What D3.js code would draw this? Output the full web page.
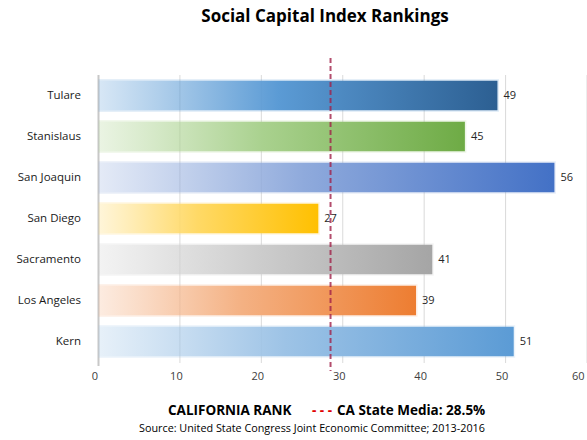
<!DOCTYPE html>
<html>
<head>
<meta charset="utf-8">
<script src="https://cdn.jsdelivr.net/npm/d3@7"></script>
<style>
  html, body { margin: 0; padding: 0; background: #ffffff; }
  svg { display: block; }
  text { font-family: "Open Sans", "Liberation Sans", sans-serif; }
</style>
</head>
<body>
<svg id="chart" width="587" height="440"></svg>
<script>
// Counties and their Social Capital Index rank
const counties = ["Tulare", "Stanislaus", "San Joaquin", "San Diego", "Sacramento", "Los Angeles", "Kern"];
const ranks = [49, 45, 56, 27, 41, 39, 51];
const stateMedian = 28.5;
const xTicks = [0, 10, 20, 30, 40, 50, 60];

const titleText = "Social Capital Index Rankings";
const legendLabel = "CALIFORNIA RANK";
const legendMedian = "CA State Media: 28.5%";
const sourceText = "Source: United State Congress Joint Economic Committee; 2013-2016";

// Gradient palette per bar: [light, full]
const palette = [
  ["#5b9bd5", "#2c5f92"],
  ["#a9d18e", "#6eab45"],
  ["#8faadc", "#4371c6"],
  ["#ffd966", "#ffc000"],
  ["#cfcfcf", "#a5a5a5"],
  ["#f4b183", "#ed7d31"],
  ["#9dc3e6", "#5b9bd5"]
];

const svg = d3.select("#chart");

const x = d3.scaleLinear().domain([0, 60]).range([98.5, 587]);
const y = d3.scaleBand().domain(counties).range([75, 362]).paddingInner(0.28).paddingOuter(0.14);

// Gradients: pale, nearly transparent at the origin, deepening to the bar end
const defs = svg.append("defs");
palette.forEach((p, i) => {
  const g = defs.append("linearGradient")
    .attr("id", "grad" + i)
    .attr("x1", "0%").attr("x2", "100%").attr("y1", "0%").attr("y2", "0%");
  g.append("stop").attr("offset", "0%").attr("stop-color", p[0]).attr("stop-opacity", 0.05);
  g.append("stop").attr("offset", "15%").attr("stop-color", p[0]).attr("stop-opacity", 0.35);
  g.append("stop").attr("offset", "45%").attr("stop-color", p[0]).attr("stop-opacity", 1);
  g.append("stop").attr("offset", "100%").attr("stop-color", p[1]).attr("stop-opacity", 1);
});

// Title
svg.append("text")
  .attr("x", 325).attr("y", 22)
  .attr("text-anchor", "middle")
  .attr("font-size", 17).attr("font-weight", "bold")
  .attr("fill", "#000")
  .text(titleText);

// Vertical gridlines
svg.append("g").selectAll("line")
  .data(xTicks)
  .join("line")
  .attr("x1", d => x(d)).attr("x2", d => x(d))
  .attr("y1", 75).attr("y2", d => d === 0 ? 366 : 363)
  .attr("stroke", d => d === 0 ? "#c8c8c8" : "#dadada")
  .attr("stroke-width", d => d === 0 ? 2 : 1);

// X axis labels
const xAxis = d3.axisBottom(x).tickValues(xTicks).tickSize(0).tickPadding(0);
const gx = svg.append("g").attr("transform", "translate(-4,372)").call(xAxis);
gx.select(".domain").remove();
gx.selectAll("text").attr("font-size", 11).attr("fill", "#404040")
  .attr("font-family", "'Open Sans', sans-serif");
// keep the last label inside the frame
gx.selectAll(".tick").filter(d => d === 60).select("text")
  .attr("text-anchor", "end").attr("dx", "0.1em");

// Y axis labels
const yAxis = d3.axisLeft(y).tickSize(0).tickPadding(0);
const gy = svg.append("g").attr("transform", "translate(81,0)").call(yAxis);
gy.select(".domain").remove();
gy.selectAll("text").attr("font-size", 11.5).attr("fill", "#1a1a1a")
  .attr("font-family", "'Open Sans', sans-serif");

// Bars with a soft halo
const bars = svg.append("g");
bars.selectAll("rect.halo")
  .data(counties)
  .join("rect")
  .attr("class", "halo")
  .attr("x", x(0))
  .attr("y", d => y(d) - 1.5)
  .attr("width", (d, i) => x(ranks[i]) - x(0) + 1.5)
  .attr("height", y.bandwidth() + 3)
  .attr("fill", (d, i) => palette[i][0])
  .attr("opacity", 0.2);

bars.selectAll("rect.bar")
  .data(counties)
  .join("rect")
  .attr("class", "bar")
  .attr("x", x(0))
  .attr("y", d => y(d))
  .attr("width", (d, i) => x(ranks[i]) - x(0))
  .attr("height", y.bandwidth())
  .attr("fill", (d, i) => `url(#grad${i})`);

// Value labels
svg.append("g").selectAll("text")
  .data(counties)
  .join("text")
  .attr("x", (d, i) => x(ranks[i]) + 6)
  .attr("y", d => y(d) + y.bandwidth() / 2)
  .attr("dy", "0.35em")
  .attr("font-size", 11)
  .attr("fill", "#262626")
  .text((d, i) => ranks[i]);

// State median marker
svg.append("line")
  .attr("x1", x(stateMedian)).attr("x2", x(stateMedian))
  .attr("y1", 58).attr("y2", 371)
  .attr("stroke", "#a02048")
  .attr("stroke-opacity", 0.8)
  .attr("stroke-width", 2)
  .attr("stroke-dasharray", "5,3");

// Legend
const legend = svg.append("g");
legend.append("text")
  .attr("x", 168).attr("y", 415)
  .attr("font-size", 13.5).attr("font-weight", "bold").attr("fill", "#000")
  .text(legendLabel);
legend.append("text")
  .attr("x", 312).attr("y", 415)
  .attr("font-size", 13.5).attr("font-weight", "bold").attr("fill", "#e00000")
  .text("- - -");
legend.append("text")
  .attr("x", 337).attr("y", 415)
  .attr("font-size", 13.5).attr("font-weight", "bold").attr("fill", "#000")
  .text(legendMedian);

svg.append("text")
  .attr("x", 312).attr("y", 432)
  .attr("text-anchor", "middle")
  .attr("font-size", 10.8).attr("fill", "#000")
  .text(sourceText);
</script>
</body>
</html>
